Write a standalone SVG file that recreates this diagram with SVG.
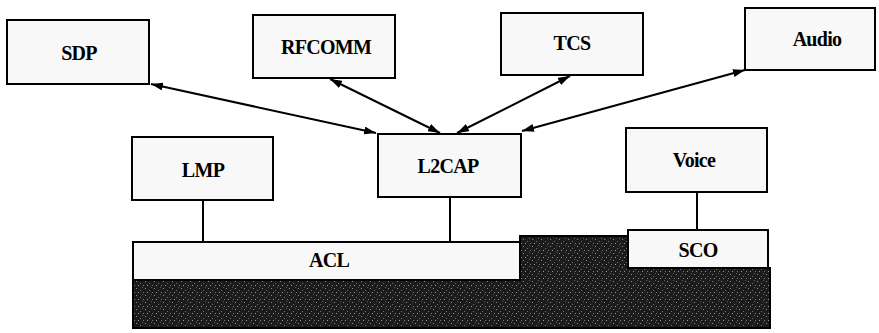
<svg xmlns="http://www.w3.org/2000/svg" width="879" height="333" viewBox="0 0 879 333">
  <style>
    .box { fill: #f8f8f8; stroke: #000; stroke-width: 2; }
    .lbl { font-family: "Liberation Serif", "Times New Roman", serif; font-weight: bold; font-size: 20px; text-anchor: middle; fill: #000; letter-spacing: -0.7px; }
    .link { stroke: #000; stroke-width: 2; fill: none; }
    .arrow { stroke: #000; stroke-width: 2; fill: none; marker-start: url(#head); marker-end: url(#head); }
  </style>
  <defs>
    <marker id="head" viewBox="0 0 12 8" refX="12" refY="4" markerWidth="12" markerHeight="8" markerUnits="userSpaceOnUse" orient="auto-start-reverse">
      <path d="M0,0 L12,4 L0,8 Z" fill="#000"/>
    </marker>
    <!-- speckled halftone fill for the physical layer band -->
    <pattern id="grain" width="9" height="7" patternUnits="userSpaceOnUse">
      <rect width="9" height="7" fill="#1c1c1c"/>
      <rect x="1" y="1" width="1" height="1" fill="#8a8a8a"/>
      <rect x="5" y="3" width="1" height="1" fill="#6e6e6e"/>
      <rect x="3" y="5" width="1" height="1" fill="#9a9a9a"/>
      <rect x="7" y="0" width="1" height="1" fill="#5a5a5a"/>
      <rect x="8" y="5" width="1" height="1" fill="#777"/>
    </pattern>
  </defs>

  <!-- baseband band with ACL/SCO cut-outs -->
  <g id="baseband">
    <polygon points="520,236 628,236 628,268 770,268 770,328 133,328 133,280 520,280" fill="url(#grain)" stroke="#000" stroke-width="2"/>
  </g>

  <g id="connectors">
    <line class="arrow" x1="376" y1="133" x2="151" y2="84"/>
    <line class="arrow" x1="440" y1="133" x2="330" y2="79"/>
    <line class="arrow" x1="457" y1="133" x2="570" y2="76"/>
    <line class="arrow" x1="522" y1="131" x2="745" y2="70"/>
    <line class="link" x1="203" y1="200" x2="203" y2="242"/>
    <line class="link" x1="450" y1="197" x2="450" y2="242"/>
    <line class="link" x1="697" y1="192" x2="697" y2="230"/>
  </g>

  <g id="sdp">
    <rect class="box" x="7" y="20" width="142" height="64"/>
    <text class="lbl" x="79" y="60">SDP</text>
  </g>
  <g id="rfcomm">
    <rect class="box" x="253" y="15" width="142" height="63"/>
    <text class="lbl" x="326" y="54">RFCOMM</text>
  </g>
  <g id="tcs">
    <rect class="box" x="501" y="13" width="142" height="62"/>
    <text class="lbl" x="572" y="50">TCS</text>
  </g>
  <g id="audio">
    <rect class="box" x="745" y="8" width="130" height="62"/>
    <text class="lbl" x="817" y="46">Audio</text>
  </g>
  <g id="lmp">
    <rect class="box" x="132" y="137" width="141" height="63"/>
    <text class="lbl" x="203" y="177">LMP</text>
  </g>
  <g id="l2cap">
    <rect class="box" x="378" y="134" width="143" height="63"/>
    <text class="lbl" x="448" y="173">L2CAP</text>
  </g>
  <g id="voice">
    <rect class="box" x="626" y="128" width="141" height="64"/>
    <text class="lbl" x="694" y="167">Voice</text>
  </g>
  <g id="acl">
    <rect class="box" x="133" y="242" width="387" height="38"/>
    <text class="lbl" x="329" y="267">ACL</text>
  </g>
  <g id="sco">
    <rect class="box" x="628" y="230" width="140" height="38"/>
    <text class="lbl" x="698" y="257">SCO</text>
  </g>
</svg>
